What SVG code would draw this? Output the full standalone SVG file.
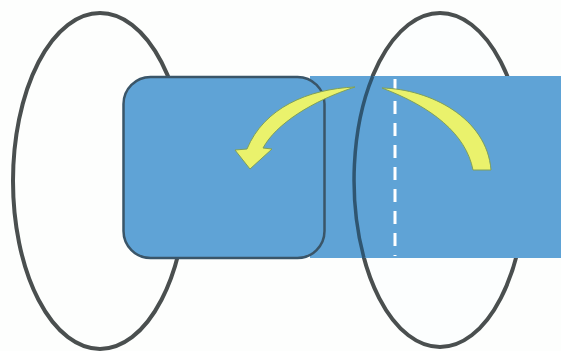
<svg xmlns="http://www.w3.org/2000/svg" width="561" height="351" viewBox="0 0 561 351">
<style>
.ring{fill:none;stroke:#4a4f4f;stroke-width:4}
.blue{fill:#5fa3d6}
.edge{fill:none;stroke:#2f5570;stroke-width:3.500}
.arrow{fill:#eaf26c;stroke:#7fa05a;stroke-width:1}
</style>
<rect width="561" height="351" fill="#fdfefd"/>
<g id="left-ellipse"><ellipse class="ring" cx="100" cy="181" rx="87" ry="168"/></g>
<g id="right-ellipse-fill"><ellipse cx="440" cy="180" rx="86" ry="167" fill="#fcfefe"/><ellipse class="ring" cx="440" cy="180" rx="86" ry="167"/></g>
<g id="band"><rect class="blue" x="310" y="76" width="251" height="182"/></g>
<g id="rounded-box"><rect class="blue" x="123.500" y="77" width="201" height="181" rx="27" stroke="#3a5568" stroke-width="2.500"/></g>
<g id="right-ellipse-edge"><path class="edge" d="M372.800 76A86 167 0 0 0 364 258"/></g>
<g id="connectors">
<line x1="395" y1="79" x2="395" y2="256" stroke="#fff" stroke-width="3" stroke-dasharray="13 9"/>
<path class="arrow" d="M355 87C308 89 264 108 247 149L235 150L250 169L272 149L263 148C276 124 312 101 355 87Z"/>
<path class="arrow" d="M382 88C430 89 487 118 491 170L473 170C466 134 432 107 382 88Z"/>
</g>
</svg>
